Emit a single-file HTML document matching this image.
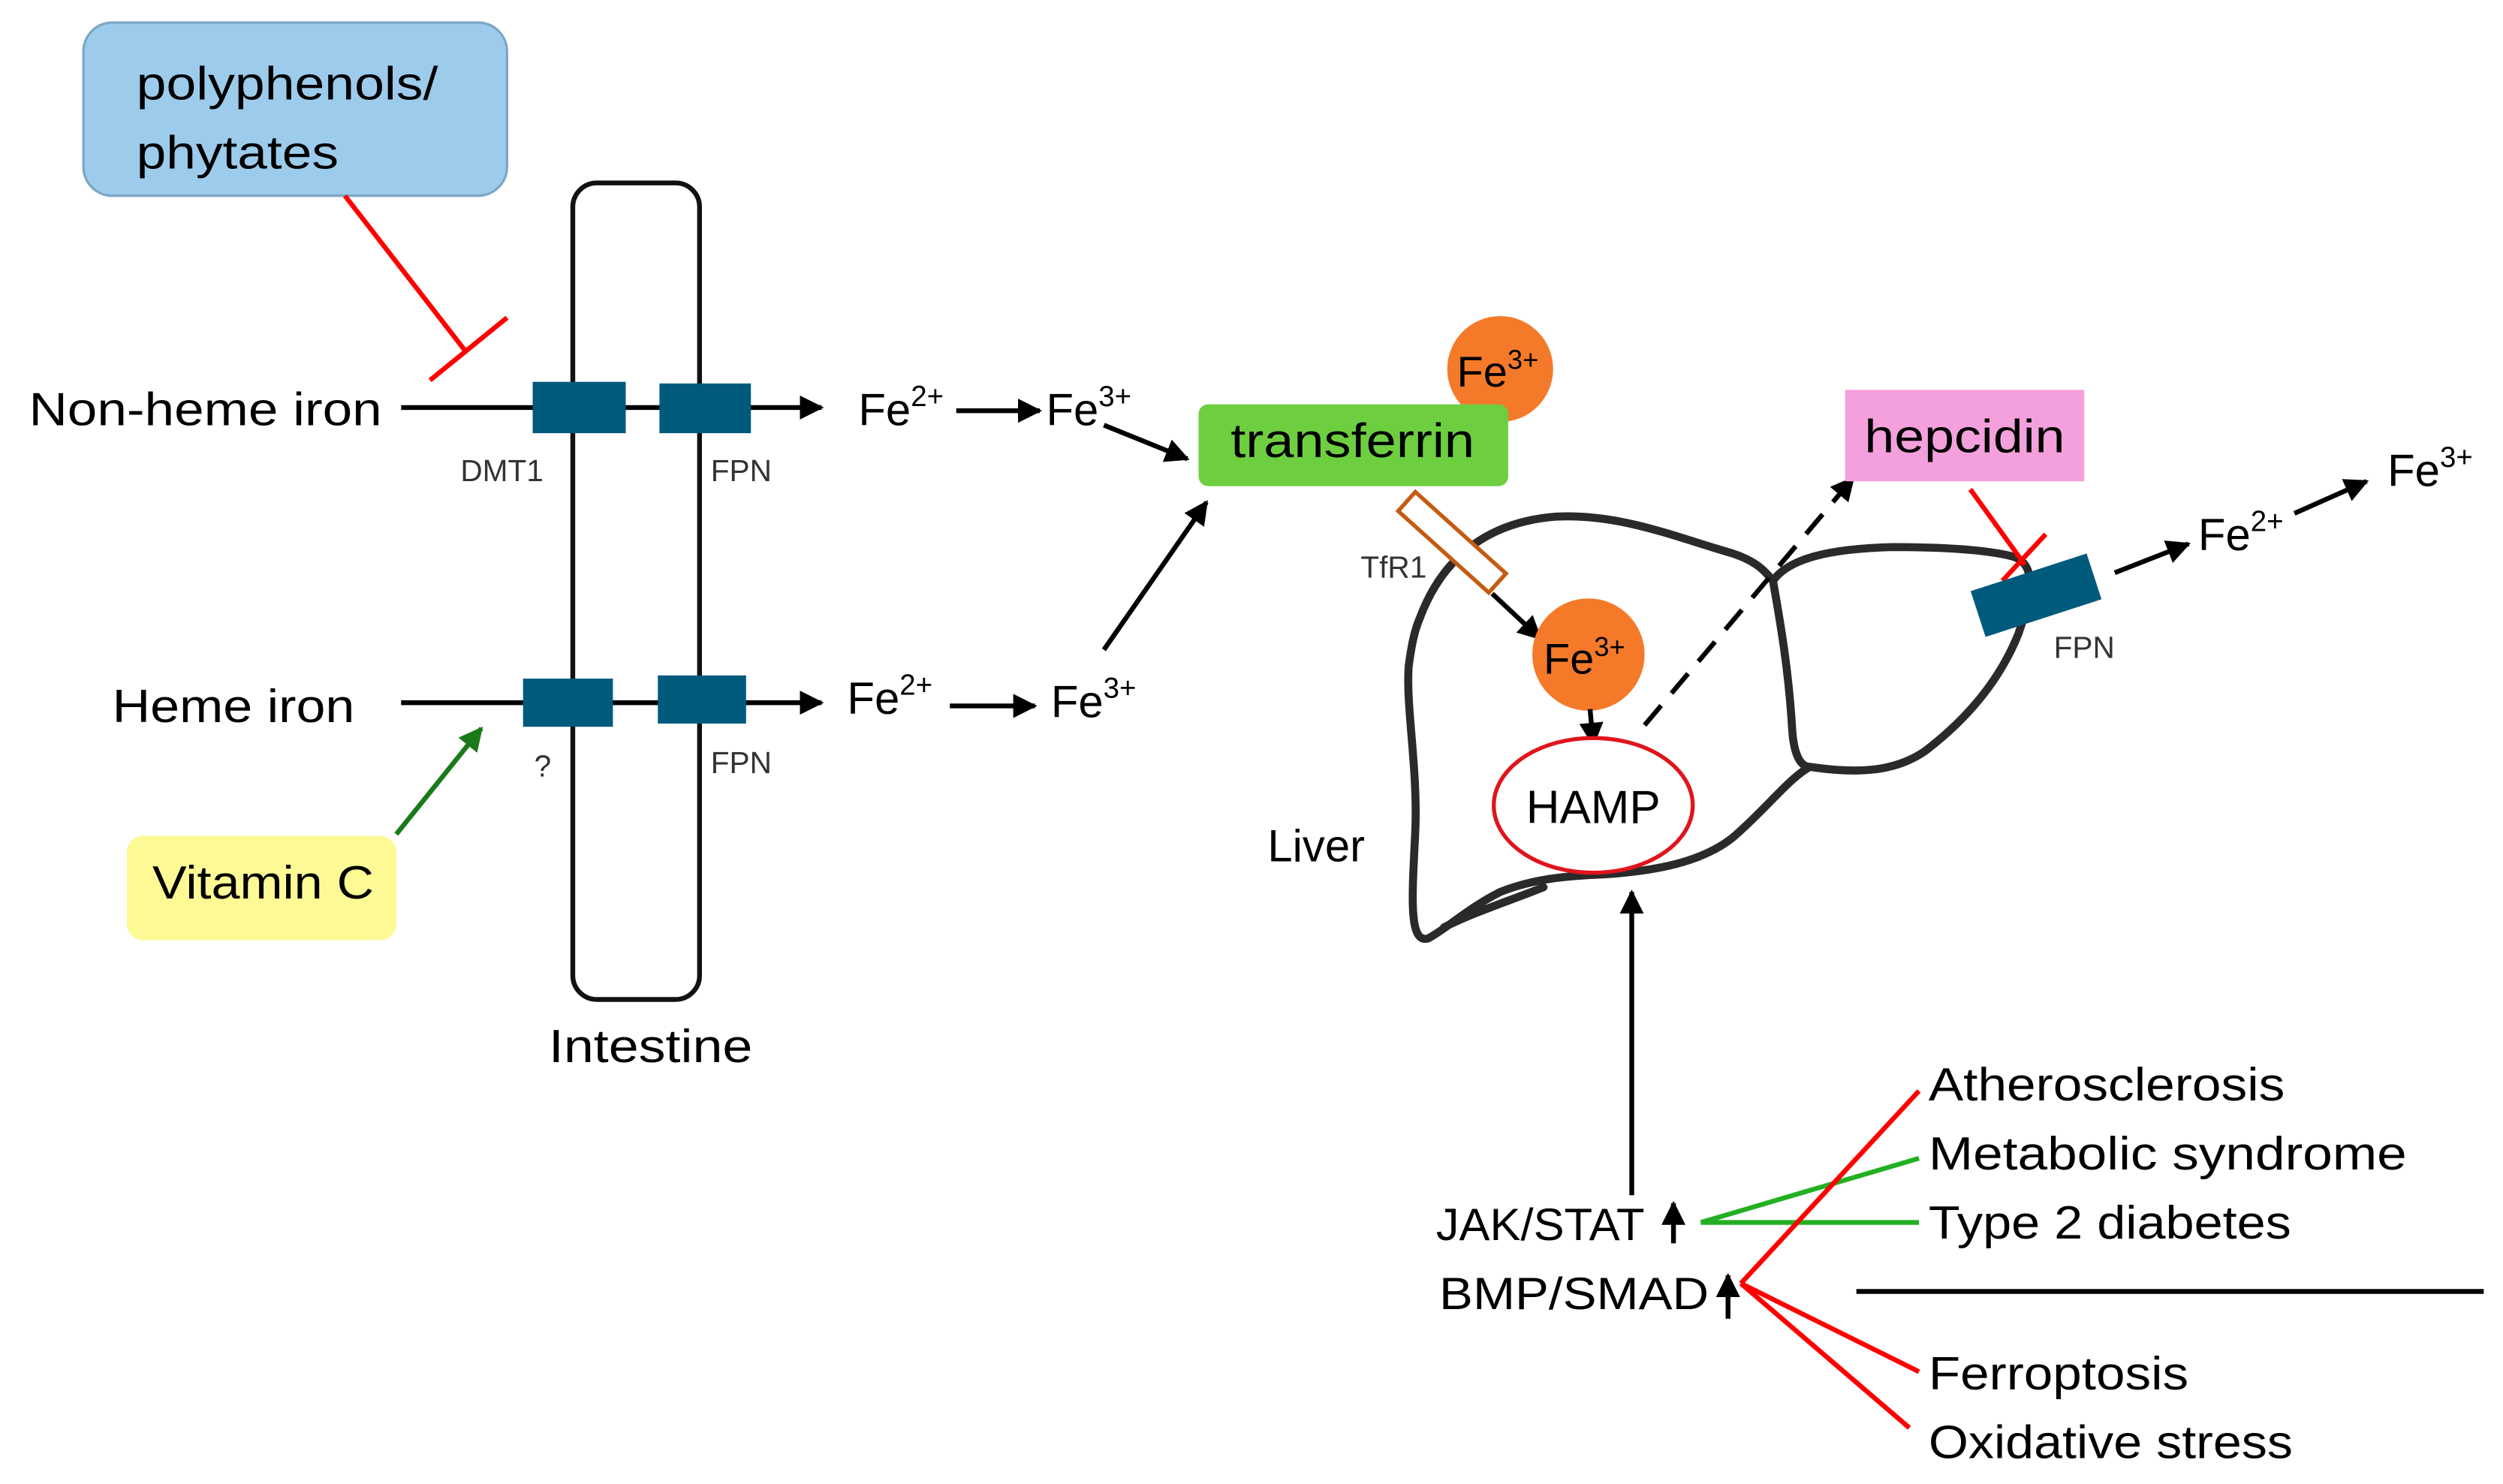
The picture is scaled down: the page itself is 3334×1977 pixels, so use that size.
<!DOCTYPE html>
<html><head><meta charset="utf-8"><style>html,body{margin:0;padding:0;background:#fff}svg{display:block}</style></head>
<body>
<svg width="3334" height="1977" viewBox="0 0 1560 925" xmlns="http://www.w3.org/2000/svg" font-family="Liberation Sans, sans-serif">
<defs>
<marker id="ah" viewBox="0 0 10 10" refX="9" refY="5" markerWidth="5" markerHeight="5" orient="auto"><path d="M0,0 L10,5 L0,10 z" fill="#000"/></marker>
<marker id="ahg" viewBox="0 0 10 10" refX="9" refY="5" markerWidth="5" markerHeight="5" orient="auto"><path d="M0,0 L10,5 L0,10 z" fill="#1a7a1a"/></marker>
</defs>
<rect width="1560" height="925" fill="#fff"/>
<rect x="52" y="14" width="264" height="108" rx="18" fill="#9dcbec" stroke="#7aa6c4" stroke-width="1.5"/>
<text x="85" y="62" font-size="29" textLength="188" lengthAdjust="spacingAndGlyphs">polyphenols/</text>
<text x="85" y="105" font-size="29" textLength="126" lengthAdjust="spacingAndGlyphs">phytates</text>
<line x1="215" y1="122" x2="291" y2="220" stroke="#f00" stroke-width="3"/>
<line x1="268" y1="237" x2="316" y2="198" stroke="#f00" stroke-width="3"/>
<rect x="357" y="114" width="79" height="509" rx="15" fill="none" stroke="#111" stroke-width="3"/>
<text x="342" y="662" font-size="29" textLength="127" lengthAdjust="spacingAndGlyphs">Intestine</text>
<text x="18" y="265" font-size="29" textLength="220" lengthAdjust="spacingAndGlyphs">Non-heme iron</text>
<line x1="250" y1="254" x2="512" y2="254" stroke="#000" stroke-width="3" marker-end="url(#ah)"/>
<rect x="332" y="238" width="58" height="32" fill="#005a7c"/>
<rect x="411" y="239" width="57" height="31" fill="#005a7c"/>
<text x="287" y="300" font-size="19" fill="#333">DMT1</text>
<text x="443" y="300" font-size="19" fill="#333">FPN</text>
<text x="535" y="265" font-size="28">Fe<tspan font-size="18" dy="-12">2+</tspan></text>
<line x1="596" y1="256" x2="648" y2="256" stroke="#000" stroke-width="3" marker-end="url(#ah)"/>
<text x="652" y="265" font-size="28">Fe<tspan font-size="18" dy="-12">3+</tspan></text>
<line x1="688" y1="265" x2="740" y2="286" stroke="#000" stroke-width="3" marker-end="url(#ah)"/>
<text x="70" y="450" font-size="29" textLength="151" lengthAdjust="spacingAndGlyphs">Heme iron</text>
<line x1="250" y1="438" x2="512" y2="438" stroke="#000" stroke-width="3" marker-end="url(#ah)"/>
<rect x="326" y="423" width="56" height="30" fill="#005a7c"/>
<rect x="410" y="421" width="55" height="30" fill="#005a7c"/>
<text x="333" y="484" font-size="19" fill="#333">?</text>
<text x="443" y="482" font-size="19" fill="#333">FPN</text>
<text x="528" y="445" font-size="28">Fe<tspan font-size="18" dy="-12">2+</tspan></text>
<line x1="592" y1="440" x2="645" y2="440" stroke="#000" stroke-width="3" marker-end="url(#ah)"/>
<text x="655" y="447" font-size="28">Fe<tspan font-size="18" dy="-12">3+</tspan></text>
<line x1="688" y1="405" x2="752" y2="313" stroke="#000" stroke-width="3" marker-end="url(#ah)"/>
<rect x="79" y="521" width="168" height="65" rx="10" fill="#fdfa96"/>
<text x="95" y="560" font-size="29" textLength="138" lengthAdjust="spacingAndGlyphs">Vitamin C</text>
<line x1="247" y1="520" x2="300" y2="454" stroke="#1a7a1a" stroke-width="3" marker-end="url(#ahg)"/>
<circle cx="935" cy="230" r="33" fill="#f47a2a"/>
<text x="908" y="241" font-size="27">Fe<tspan font-size="17" dy="-11">3+</tspan></text>
<rect x="747" y="252" width="193" height="51" rx="6" fill="#6dcf40"/>
<text x="767" y="285" font-size="30" textLength="152" lengthAdjust="spacingAndGlyphs">transferrin</text>
<g fill="none" stroke="#2a2a2a" stroke-width="5" stroke-linejoin="round" stroke-linecap="round">
<path d="M885,385 C900,345 930,325 970,322 C1010,320 1045,335 1080,345 C1095,350 1100,356 1105,362 C1115,348 1140,342 1180,341 C1215,341 1240,343 1255,347 C1270,352 1266,372 1258,395 C1248,420 1230,445 1200,468 C1180,482 1155,482 1128,478 C1115,485 1100,505 1080,522 C1060,538 1030,543 1000,545 C975,546 955,548 935,556 C915,566 900,580 890,585 C878,588 880,560 882,520 C884,480 876,440 878,415 C880,400 882,392 885,385 Z"/>
<path d="M1105,362 C1110,390 1115,420 1117,455 C1118,470 1122,478 1128,478"/>
<path d="M900,578 C920,568 945,560 962,553"/>
</g>
<g transform="translate(905,338) rotate(42)"><rect x="-38" y="-8" width="76" height="16" fill="#fff" stroke="#c55a11" stroke-width="2.5"/></g>
<text x="848" y="360" font-size="19" fill="#333">TfR1</text>
<line x1="930" y1="370" x2="960" y2="398" stroke="#000" stroke-width="3" marker-end="url(#ah)"/>
<circle cx="990" cy="408" r="35" fill="#f47a2a"/>
<text x="962" y="420" font-size="27">Fe<tspan font-size="17" dy="-11">3+</tspan></text>
<line x1="991" y1="442" x2="993" y2="464" stroke="#000" stroke-width="3" marker-end="url(#ah)"/>
<ellipse cx="993" cy="502" rx="62" ry="42" fill="#fff" stroke="#e0141c" stroke-width="2.5"/>
<text x="993" y="513" font-size="29" text-anchor="middle">HAMP</text>
<text x="790" y="537" font-size="28">Liver</text>
<line x1="1025" y1="452" x2="1155" y2="298" stroke="#000" stroke-width="3" stroke-dasharray="16,10" marker-end="url(#ah)"/>
<rect x="1150" y="243" width="149" height="57" fill="#f4a0dc"/>
<text x="1162" y="282" font-size="29" textLength="125" lengthAdjust="spacingAndGlyphs">hepcidin</text>
<line x1="1228" y1="305" x2="1262" y2="352" stroke="#f00" stroke-width="3"/>
<line x1="1248" y1="362" x2="1275" y2="333" stroke="#f00" stroke-width="3"/>
<g transform="translate(1269,371) rotate(-18)"><rect x="-38" y="-15" width="76" height="30" fill="#005a7c"/></g>
<text x="1280" y="410" font-size="19" fill="#333">FPN</text>
<line x1="1318" y1="357" x2="1364" y2="339" stroke="#000" stroke-width="3" marker-end="url(#ah)"/>
<text x="1370" y="343" font-size="28">Fe<tspan font-size="18" dy="-12">2+</tspan></text>
<line x1="1430" y1="320" x2="1475" y2="300" stroke="#000" stroke-width="3" marker-end="url(#ah)"/>
<text x="1488" y="303" font-size="28">Fe<tspan font-size="18" dy="-12">3+</tspan></text>
<line x1="1017" y1="745" x2="1017" y2="556" stroke="#000" stroke-width="3" marker-end="url(#ah)"/>
<text x="895" y="773" font-size="28" textLength="130" lengthAdjust="spacingAndGlyphs">JAK/STAT</text>
<line x1="1043" y1="775" x2="1043" y2="750" stroke="#000" stroke-width="3" marker-end="url(#ah)"/>
<text x="897" y="816" font-size="28" textLength="168" lengthAdjust="spacingAndGlyphs">BMP/SMAD</text>
<line x1="1077" y1="822" x2="1077" y2="795" stroke="#000" stroke-width="3" marker-end="url(#ah)"/>
<line x1="1060" y1="762" x2="1196" y2="722" stroke="#22b022" stroke-width="3"/>
<line x1="1060" y1="762" x2="1196" y2="762" stroke="#22b022" stroke-width="3"/>
<line x1="1085" y1="800" x2="1196" y2="680" stroke="#f00" stroke-width="3"/>
<line x1="1085" y1="800" x2="1196" y2="855" stroke="#f00" stroke-width="3"/>
<line x1="1085" y1="800" x2="1190" y2="890" stroke="#f00" stroke-width="3"/>
<line x1="1157" y1="805" x2="1548" y2="805" stroke="#000" stroke-width="3"/>
<g font-size="29">
<text x="1202" y="686" textLength="222" lengthAdjust="spacingAndGlyphs">Atherosclerosis</text>
<text x="1202" y="729" textLength="298" lengthAdjust="spacingAndGlyphs">Metabolic syndrome</text>
<text x="1202" y="772" textLength="226" lengthAdjust="spacingAndGlyphs">Type 2 diabetes</text>
<text x="1202" y="866" textLength="162" lengthAdjust="spacingAndGlyphs">Ferroptosis</text>
<text x="1202" y="909" textLength="227" lengthAdjust="spacingAndGlyphs">Oxidative stress</text>
</g>
</svg>
</body></html>
